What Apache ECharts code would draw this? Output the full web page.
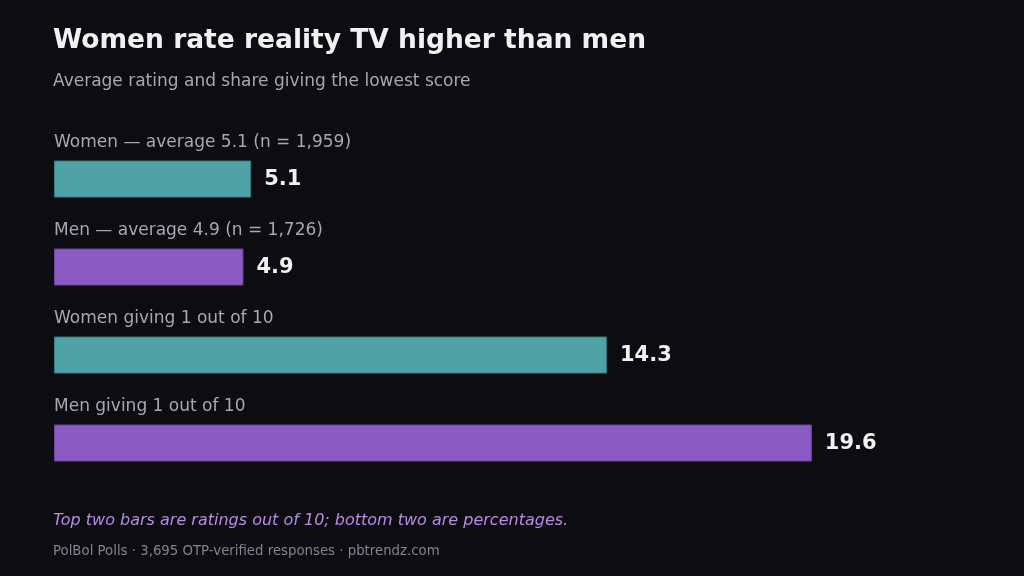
<!DOCTYPE html>
<html>
<head>
<meta charset="utf-8">
<script src="https://cdn.jsdelivr.net/npm/echarts@6/dist/echarts.min.js"></script>
<style>
html,body{margin:0;padding:0;background:#0d0c11;}
#chart{width:1024px;height:576px;}
</style>
</head>
<body>
<div id="chart"></div>
<script>
const categories = [
  "Women — average 5.1 (n = 1,959)",
  "Men — average 4.9 (n = 1,726)",
  "Women giving 1 out of 10",
  "Men giving 1 out of 10"
];
const values = [5.1, 4.9, 14.3, 19.6];
const barColors = ["#4fa3a6", "#8b5bc4", "#4fa3a6", "#8b5bc4"];
const borderColors = ["#3a7c7f", "#6a43a0", "#3a7c7f", "#6a43a0"];

const FONT = "DejaVu Sans";
const chart = echarts.init(document.getElementById('chart'));
chart.setOption({
  backgroundColor: "#0d0c11",
  animation: false,
  title: [
    { text: "Women rate reality TV higher than men", left: 53, top: 28, padding: 0,
      textStyle: { color: "#f2f0f5", fontFamily: FONT, fontWeight: "bold", fontSize: 26.5 } },
    { text: "Average rating and share giving the lowest score", left: 53, top: 73, padding: 0,
      textStyle: { color: "#a9a6b3", fontFamily: FONT, fontWeight: "normal", fontSize: 17 } },
    { text: "Top two bars are ratings out of 10; bottom two are percentages.", left: 53, top: 513, padding: 0,
      textStyle: { color: "#b58be6", fontFamily: FONT, fontStyle: "italic", fontWeight: "normal", fontSize: 16 } },
    { text: "PolBol Polls · 3,695 OTP-verified responses · pbtrendz.com", left: 53, top: 545, padding: 0,
      textStyle: { color: "#85828f", fontFamily: FONT, fontWeight: "normal", fontSize: 13.3 } }
  ],
  grid: { left: 54, right: 42, top: 135, height: 352 },
  xAxis: { type: "value", min: 0, max: 24, show: false },
  yAxis: { type: "category", data: categories, inverse: true, show: false },
  series: [
    {
      type: "bar",
      barWidth: 37,
      data: values.map((v, i) => ({
        value: v,
        itemStyle: { color: barColors[i], borderColor: borderColors[i], borderWidth: 1 }
      })),
      label: {
        show: true,
        position: [0, -18],
        verticalAlign: "middle",
        align: "left",
        formatter: p => categories[p.dataIndex],
        color: "#a9a6b3",
        fontFamily: FONT,
        fontSize: 17
      }
    },
    {
      type: "bar",
      barWidth: 37,
      barGap: "-100%",
      data: values,
      itemStyle: { color: "transparent" },
      label: {
        show: true,
        position: "right",
        distance: 13,
        offset: [0, 1],
        formatter: p => p.value.toFixed(1),
        color: "#f2f0f5",
        fontFamily: FONT,
        fontWeight: "bold",
        fontSize: 21
      },
      silent: true
    }
  ]
});
</script>
</body>
</html>
